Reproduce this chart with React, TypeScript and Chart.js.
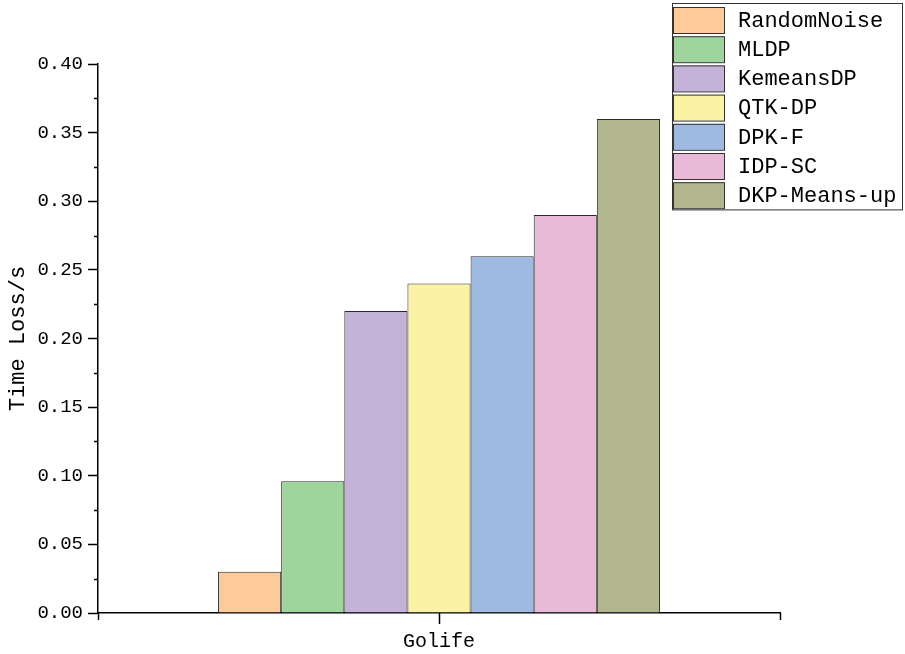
import { useEffect, useRef } from 'react';
import { Chart, registerables } from 'chart.js';

Chart.register(...registerables);

const categories = ['Golife'];
const methods = ['RandomNoise', 'MLDP', 'KemeansDP', 'QTK-DP', 'DPK-F', 'IDP-SC', 'DKP-Means-up'];
const timeLoss = [0.03, 0.096, 0.22, 0.24, 0.26, 0.29, 0.36];
const colors = ['#FDCB97', '#A0D49D', '#C4B2D8', '#FAF3A4', '#9EBAE0', '#E8BAD8', '#B2B68F'];
const yMax = 0.4;
const yStep = 0.05;

const FONT = "'Liberation Mono', 'DejaVu Sans Mono', monospace";

const extrasPlugin = {
  id: 'extras',
  afterDraw(chart: any) {
    const ctx = chart.ctx;
    const y = chart.scales.y;
    const x = chart.scales.x;
    ctx.save();
    ctx.strokeStyle = '#000';
    ctx.lineWidth = 1.5;
    // minor y ticks
    for (let v = yStep / 2; v < yMax; v += yStep) {
      const py = Math.round(y.getPixelForValue(v)) + 0.5;
      ctx.beginPath();
      ctx.moveTo(y.right - 4, py);
      ctx.lineTo(y.right, py);
      ctx.stroke();
    }
    // x edge ticks
    [x.left, x.right].forEach((px: number) => {
      ctx.beginPath();
      ctx.moveTo(Math.round(px) + 0.5, x.top);
      ctx.lineTo(Math.round(px) + 0.5, x.top + 7);
      ctx.stroke();
    });
    // center category tick
    categories.forEach((_, i) => {
      const px = Math.round(x.getPixelForValue(i)) + 0.5;
      ctx.beginPath();
      ctx.moveTo(px, x.top);
      ctx.lineTo(px, x.top + 11);
      ctx.stroke();
    });
    // legend
    const boxRight = chart.width - 3;
    const boxLeft = boxRight - 230;
    const boxTop = 3;
    const rowH = 29.2;
    const boxBottom = boxTop + rowH * methods.length + 2;
    ctx.fillStyle = '#fff';
    ctx.fillRect(boxLeft, boxTop, boxRight - boxLeft, boxBottom - boxTop);
    ctx.lineWidth = 1;
    ctx.strokeStyle = '#333';
    ctx.strokeRect(boxLeft + 0.5, boxTop + 0.5, boxRight - boxLeft, boxBottom - boxTop);
    ctx.font = `22px ${FONT}`;
    ctx.textBaseline = 'middle';
    ctx.textAlign = 'left';
    chart.data.datasets.forEach((ds: any, i: number) => {
      const top = boxTop + 4 + i * rowH;
      ctx.fillStyle = ds.backgroundColor;
      ctx.fillRect(boxLeft + 1.5, top, 51, 26);
      ctx.strokeStyle = '#333';
      ctx.strokeRect(boxLeft + 1.5, top + 0.5, 51, 26);
      ctx.fillStyle = '#000';
      ctx.fillText(ds.label, boxLeft + 66, top + 14);
    });
    ctx.restore();
  },
};

export default function App() {
  const ref = useRef<HTMLCanvasElement | null>(null);
  useEffect(() => {
    if (!ref.current) return;
    const chart = new Chart(ref.current, {
      type: 'bar',
      data: {
        labels: categories,
        datasets: methods.map((m, i) => ({
          label: m,
          data: [timeLoss[i]],
          backgroundColor: colors[i],
          borderColor: '#2a2a2a',
          borderWidth: 1,
        })),
      },
      options: {
        animation: false,
        responsive: true,
        maintainAspectRatio: false,
        layout: { padding: { top: 64, right: 125, bottom: 0, left: 2 } },
        datasets: { bar: { categoryPercentage: 0.648, barPercentage: 1 } },
        plugins: { legend: { display: false }, tooltip: { enabled: false } },
        scales: {
          x: {
            grid: { drawOnChartArea: false, tickLength: 17, tickColor: 'rgba(0,0,0,0)', offset: true },
            border: { color: '#000', width: 1.5 },
            ticks: { color: '#000', padding: 2, font: { family: FONT, size: 20, lineHeight: 1 } },
          },
          y: {
            min: 0,
            max: yMax,
            grid: { drawOnChartArea: false, tickLength: 10, tickColor: '#000', tickWidth: 1.5 },
            border: { color: '#000', width: 1.5 },
            ticks: {
              stepSize: yStep,
              color: '#000',
              padding: 5,
              font: { family: FONT, size: 19 },
              callback: (v: any) => Number(v).toFixed(2),
            },
            title: {
              display: true,
              text: 'Time Loss/s',
              color: '#000',
              font: { family: FONT, size: 22 },
              padding: { top: 3, bottom: 1 },
            },
          },
        },
      },
      plugins: [extrasPlugin],
    });
    return () => chart.destroy();
  }, []);
  return (
    <div style={{ position: 'absolute', left: 0, top: 0, width: 905, height: 654, background: '#fff' }}>
      <canvas ref={ref} />
    </div>
  );
}
